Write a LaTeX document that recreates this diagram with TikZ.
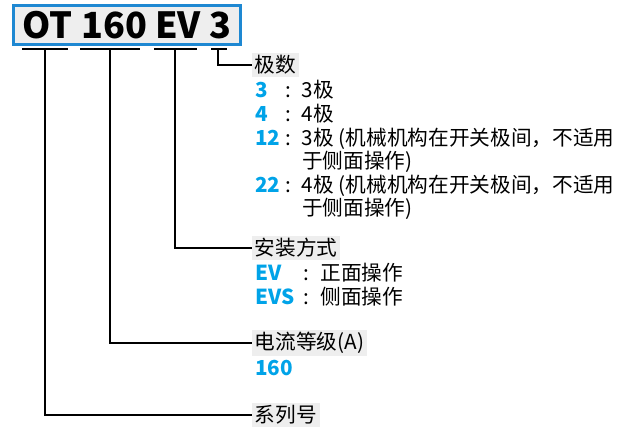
\documentclass[tikz,border=0pt]{standalone}
\usepackage{fontspec}
\setmainfont{Noto Sans CJK SC}
\usetikzlibrary{positioning}
\definecolor{codeblue}{HTML}{00A3E8}
\definecolor{frameblue}{HTML}{1E88D2}
\definecolor{tagbg}{HTML}{EEEEEE}
\newcommand{\code}[2][22.5pt]{\makebox[#1][l]{\textcolor{codeblue}{\bfseries #2}}\makebox[12.5pt][l]{:}}

\begin{document}
\begin{tikzpicture}[
    x=0.75pt, y=-0.75pt,
    title/.style={draw=frameblue, line width=2pt, fill=tagbg, minimum width=170pt, minimum height=29pt, inner sep=0pt, font=\fontsize{27}{29}\selectfont\bfseries},
    tag/.style={fill=tagbg, inner sep=2pt, anchor=west, font=\fontsize{15.5}{18}\selectfont},
    item/.style={anchor=west, inner sep=0pt, font=\fontsize{15.5}{18}\selectfont},
    lead/.style={line width=1.4pt}
  ]
    \useasboundingbox (0,0) rectangle (630,426);
    \node[title] (type) at (127,25) {OT 160 EV 3};

    % underlines below each part of the type code
    \foreach \xa/\xb in {22/68, 80/140, 154/197, 211/227}
      \draw[lead] (\xa,49) -- (\xb,49);
    \coordinate (uOT) at (45,49);
    \coordinate (uAmp) at (110,49);
    \coordinate (uMount) at (175,49);
    \coordinate (uPole) at (218,49);

    % poles
    \node[tag] (poles) at (252,65) {极数};
    \node[item] (p3) at (255,90) {\code{3}3极};
    \node[item] (p4) at (255,114) {\code{4}4极};
    \node[item] (p12) at (255,139) {\code{12}3极 (机械机构在开关极间，不适用};
    \node[item] (p12b) at (302,162) {于侧面操作)};
    \node[item] (p22) at (255,186) {\code{22}4极 (机械机构在开关极间，不适用};
    \node[item] (p22b) at (302,209) {于侧面操作)};

    % mounting
    \node[tag] (mount) at (252,248) {安装方式};
    \node[item] (ev) at (255,273) {\code[36.5pt]{EV}正面操作};
    \node[item] (evs) at (255,297) {\code[36.5pt]{EVS}侧面操作};

    % current rating
    \node[tag] (amp) at (252,343) {电流等级(A)};
    \node[item] (a160) at (255,368) {\textcolor{codeblue}{\bfseries 160}};

    % series
    \node[tag] (series) at (252,415) {系列号};

    \draw[lead] (uPole) |- (poles.west);
    \draw[lead] (uMount) |- (mount.west);
    \draw[lead] (uAmp) |- (amp.west);
    \draw[lead] (uOT) |- (series.west);
  \end{tikzpicture}
\end{document}
